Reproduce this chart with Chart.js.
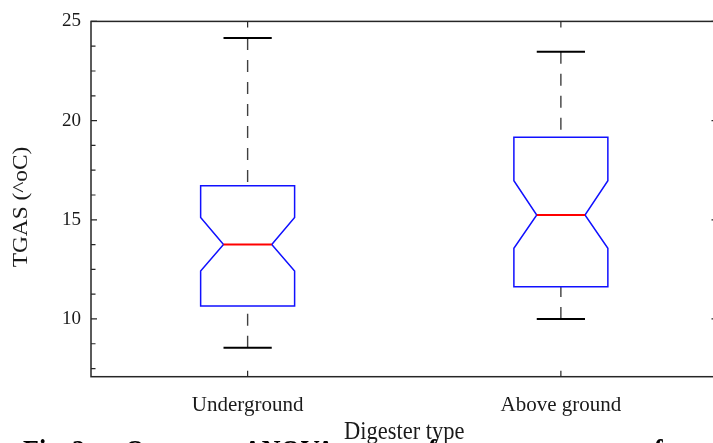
<!DOCTYPE html>
<html>
<head>
<meta charset="utf-8">
<script src="https://cdn.jsdelivr.net/npm/chart.js@4/dist/chart.umd.min.js"></script>
<style>
  html, body { margin: 0; padding: 0; overflow: hidden; background: #fff; }
  #wrap { position: relative; width: 730px; height: 443px; }
</style>
</head>
<body>
<div id="wrap"><canvas id="c" width="730" height="443"></canvas></div>
<script>
// ---- data ----
const categories   = ['Underground', 'Above ground'];
const whiskerLow   = [8.55, 10.0];
const q1           = [10.66, 11.63];
const median       = [13.75, 15.24];
const q3           = [16.72, 19.16];
const whiskerHigh  = [24.16, 23.47];
const notchLow     = [12.42, 13.56];
const notchHigh    = [15.11, 16.97];
const yTicks       = [10, 15, 20, 25];
const yMinorTicks  = [7.5, 8.75, 11.25, 12.5, 13.75, 16.25, 17.5, 18.75, 21.25, 22.5, 23.75];
const yMin = 7.09, yMax = 25;
const xTitle = 'Digester type';
const yTitle = 'TGAS (^oC)';
const captionParts = [
  { text: 'Fig. 2:', x: 23 },
  { text: 'One-way', x: 125 },
  { text: 'ANOVA', x: 243 },
  { text: 'of', x: 415 },
  { text: 'of', x: 641 }
];

const SERIF = '"Liberation Serif", "Times New Roman", serif';
const STRETCH = 1.14;

const notchPlugin = {
  id: 'notchBox',
  afterDraw(chart) {
    const { ctx, chartArea: a, scales: { x, y } } = chart;
    const unit = x.getPixelForValue(1) - x.getPixelForValue(0);
    const hb = unit * 0.150, hn = unit * 0.077, hc = unit * 0.077;
    ctx.save();
    ctx.lineCap = 'butt';
    for (let i = 0; i < categories.length; i++) {
      const cx = x.getPixelForValue(i);
      const pWL = y.getPixelForValue(whiskerLow[i]);
      const pQ1 = y.getPixelForValue(q1[i]);
      const pNL = y.getPixelForValue(notchLow[i]);
      const pM  = y.getPixelForValue(median[i]);
      const pNH = y.getPixelForValue(notchHigh[i]);
      const pQ3 = y.getPixelForValue(q3[i]);
      const pWH = y.getPixelForValue(whiskerHigh[i]);
      // whiskers (dashed)
      ctx.strokeStyle = '#404040';
      ctx.lineWidth = 1.4;
      ctx.setLineDash([12, 10]);
      ctx.beginPath(); ctx.moveTo(cx, pWH); ctx.lineTo(cx, pQ3); ctx.stroke();
      ctx.beginPath(); ctx.moveTo(cx, pWL); ctx.lineTo(cx, pQ1); ctx.stroke();
      ctx.setLineDash([]);
      // caps
      ctx.strokeStyle = '#000';
      ctx.lineWidth = 2;
      ctx.beginPath(); ctx.moveTo(cx - hc, pWH); ctx.lineTo(cx + hc, pWH); ctx.stroke();
      ctx.beginPath(); ctx.moveTo(cx - hc, pWL); ctx.lineTo(cx + hc, pWL); ctx.stroke();
      // notched box
      ctx.strokeStyle = '#1010ff';
      ctx.lineWidth = 1.5;
      ctx.lineJoin = 'miter';
      ctx.beginPath();
      ctx.moveTo(cx - hb, pQ1);
      ctx.lineTo(cx - hb, pNL);
      ctx.lineTo(cx - hn, pM);
      ctx.lineTo(cx - hb, pNH);
      ctx.lineTo(cx - hb, pQ3);
      ctx.lineTo(cx + hb, pQ3);
      ctx.lineTo(cx + hb, pNH);
      ctx.lineTo(cx + hn, pM);
      ctx.lineTo(cx + hb, pNL);
      ctx.lineTo(cx + hb, pQ1);
      ctx.closePath();
      ctx.stroke();
      // median
      ctx.strokeStyle = '#ff0000';
      ctx.lineWidth = 2;
      ctx.beginPath(); ctx.moveTo(cx - hn, pM); ctx.lineTo(cx + hn, pM); ctx.stroke();
    }
    // axes box
    ctx.strokeStyle = '#262626';
    ctx.lineWidth = 1.5;
    ctx.strokeRect(a.left, a.top, a.right - a.left, a.bottom - a.top);
    // inward ticks
    ctx.lineWidth = 1.2;
    ctx.beginPath();
    yTicks.forEach(v => {
      const py = y.getPixelForValue(v);
      ctx.moveTo(a.left, py); ctx.lineTo(a.left + 6, py);
      ctx.moveTo(a.right, py); ctx.lineTo(a.right - 6, py);
    });
    yMinorTicks.forEach(v => {
      const py = y.getPixelForValue(v);
      ctx.moveTo(a.left, py); ctx.lineTo(a.left + 4.5, py);
      ctx.moveTo(a.right, py); ctx.lineTo(a.right - 4.5, py);
    });
    categories.forEach((c, i) => {
      const px = x.getPixelForValue(i);
      ctx.moveTo(px, a.bottom); ctx.lineTo(px, a.bottom - 6);
      ctx.moveTo(px, a.top); ctx.lineTo(px, a.top + 6);
    });
    ctx.stroke();
    // axis titles (vertically stretched like the reference)
    ctx.fillStyle = '#1a1a1a';
    ctx.font = '22.5px ' + SERIF;
    ctx.textAlign = 'center';
    ctx.textBaseline = 'alphabetic';
    ctx.save();
    ctx.translate((a.left + a.right) / 2, 438.7);
    ctx.scale(1, STRETCH);
    ctx.fillText(xTitle, 0, 0);
    ctx.restore();
    ctx.save();
    ctx.font = '20.5px ' + SERIF;
    ctx.translate(27, 207);
    ctx.rotate(-Math.PI / 2);
    ctx.scale(STRETCH, 1);
    ctx.fillText(yTitle, 0, 0);
    ctx.restore();
    // partially visible caption beneath (only its top edge shows)
    ctx.save();
    ctx.font = 'bold 26px ' + SERIF;
    ctx.textAlign = 'left';
    ctx.fillStyle = '#000';
    captionParts.forEach(p => {
      ctx.save();
      ctx.translate(p.x, 459.5);
      ctx.scale(1, STRETCH);
      ctx.fillText(p.text, 0, 0);
      ctx.restore();
    });
    ctx.restore();
    ctx.restore();
  }
};

new Chart(document.getElementById('c'), {
  type: 'bar',
  data: {
    labels: categories,
    datasets: [{ data: median, backgroundColor: 'rgba(0,0,0,0)', borderWidth: 0 }]
  },
  options: {
    responsive: false,
    animation: false,
    events: [],
    layout: { padding: { top: 21.3, right: 12.5, left: 0, bottom: 0 } },
    plugins: { legend: { display: false }, tooltip: { enabled: false } },
    scales: {
      x: {
        type: 'category',
        offset: true,
        grid: { display: false, drawTicks: false },
        border: { display: false },
        ticks: { color: '#1a1a1a', padding: 16, font: { family: SERIF, size: 21 }, maxRotation: 0 },
        afterFit(s) { s.height = 443 - 376.7; }
      },
      y: {
        min: yMin, max: yMax,
        grid: { display: false, drawTicks: false },
        border: { display: false },
        afterBuildTicks(s) { s.ticks = yTicks.map(v => ({ value: v })); },
        ticks: { color: '#1a1a1a', padding: 10, font: { family: SERIF, size: 19 } },
        afterFit(s) { s.width = 91; }
      }
    }
  },
  plugins: [notchPlugin]
});
</script>
</body>
</html>
